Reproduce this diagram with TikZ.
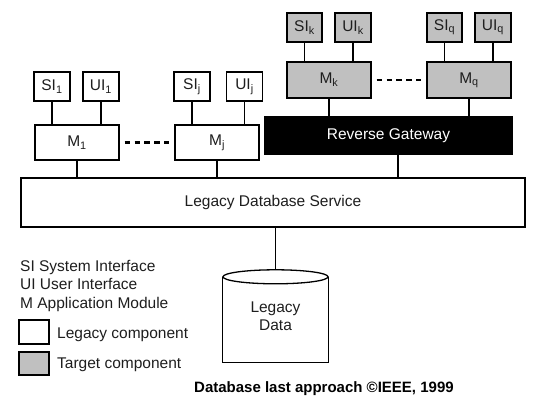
\documentclass[tikz,border=0pt]{standalone}
\usepackage{fontspec}
\setmainfont{Liberation Sans}
\definecolor{targetgray}{RGB}{192,192,192}
\definecolor{inkgray}{RGB}{30,30,30}
\begin{document}
\begin{tikzpicture}[x=1pt,y=-1pt,
  font=\fontsize{15.5}{18.5}\selectfont, text=inkgray,
  comp/.style={draw=black, line width=1.3pt, inner sep=0pt, align=center},
  legacy/.style={comp, fill=white},
  target/.style={comp, fill=targetgray},
  gateway/.style={comp, fill=black, text=white},
  conn/.style={draw=black, line width=1.2pt},
  dotline/.style={draw=black, line width=2.6pt, dash pattern=on 5.5pt off 4.4pt, shorten <=5pt, shorten >=5pt},
  iface/.style={minimum width=36pt, minimum height=29pt},
  module/.style={minimum width=84pt, minimum height=35pt},
  legtext/.style={anchor=base west, inner sep=0pt}
]
\useasboundingbox (0,0) rectangle (543,403);

% legacy modules
\node[legacy, iface] (si1) at (52,86.5) {SI\textsubscript{1}};
\node[legacy, iface] (ui1) at (101,86.5) {UI\textsubscript{1}};
\node[legacy, module] (m1) at (77,142.5) {M\textsubscript{1}};
\node[legacy, iface] (sij) at (192,86.5) {SI\textsubscript{j}};
\node[legacy, iface] (uij) at (244.5,86.5) {UI\textsubscript{j}};
\node[legacy, module] (mj) at (217,142.5) {M\textsubscript{j}};

% target modules
\node[target, iface, minimum width=35pt] (sik) at (304.5,27.5) {SI\textsubscript{k}};
\node[target, iface] (uik) at (353,27.5) {UI\textsubscript{k}};
\node[target, module, minimum height=36pt] (mk) at (329,80) {M\textsubscript{k}};
\node[target, iface, minimum width=35pt] (siq) at (444.5,27.5) {SI\textsubscript{q}};
\node[target, iface] (uiq) at (493,27.5) {UI\textsubscript{q}};
\node[target, module, minimum height=36pt] (mq) at (469,80) {M\textsubscript{q}};

% gateway and service
\node[gateway, minimum width=247pt, minimum height=37pt] (rg) at (388.5,135.5) {Reverse Gateway};
\node[legacy, minimum width=504pt, minimum height=49pt] (lds) at (273,202.5) {Legacy Database Service};
\coordinate (rgx) at (398,0);

% database
\node[inner sep=0pt, minimum width=105pt, minimum height=92pt, align=center] (db) at (275.5,316) {Legacy\\Data};
\draw[line width=1.3pt] ([yshift=-7pt]db.north west) -- (db.south west) -- (db.south east) -- ([yshift=-7pt]db.north east);
\draw[line width=1.3pt, fill=white] ([yshift=-7pt]db.north) ellipse [x radius=52.5pt, y radius=7pt];

% connectors
\draw[conn] (si1.south) -- (si1.south |- m1.north);
\draw[conn] (ui1.south) -- (ui1.south |- m1.north);
\draw[conn] (sij.south) -- (sij.south |- mj.north);
\draw[conn] (uij.south) -- (uij.south |- mj.north);
\draw[conn] (sik.south) -- (sik.south |- mk.north);
\draw[conn] (uik.south) -- (uik.south |- mk.north);
\draw[conn] (siq.south) -- (siq.south |- mq.north);
\draw[conn] (uiq.south) -- (uiq.south |- mq.north);
\draw[conn] (m1.south) -- (m1.south |- lds.north);
\draw[conn] (mj.south) -- (mj.south |- lds.north);
\draw[conn] (mk.south) -- (mk.south |- rg.north);
\draw[conn] (mq.south) -- (mq.south |- rg.north);
\draw[conn] (rg.south -| rgx) -- (lds.north -| rgx);
\draw[conn] (db.north) -- (db.north |- lds.south);
\draw[dotline] (m1) -- (mj);
\draw[dotline] (mk) -- (mq);

% legend
\node[legtext] (lsi) at (20,271) {SI System Interface};
\node[legtext] (lui) at (20,289.5) {UI User Interface};
\node[legtext] (lm) at (20,308) {M Application Module};
\node[legacy, minimum width=30pt, minimum height=24pt] (legbox) at (34,332) {};
\node[legtext] (legtxt) at (57,338) {Legacy component};
\node[target, minimum width=30pt, minimum height=23pt] (tarbox) at (34,363.5) {};
\node[legtext] (tartxt) at (57,368) {Target component};

% caption
\node[legtext, text=black, font=\fontsize{15}{18}\selectfont\bfseries] (cap) at (194,392.5) {Database last approach ©IEEE, 1999};
\end{tikzpicture}
\end{document}
